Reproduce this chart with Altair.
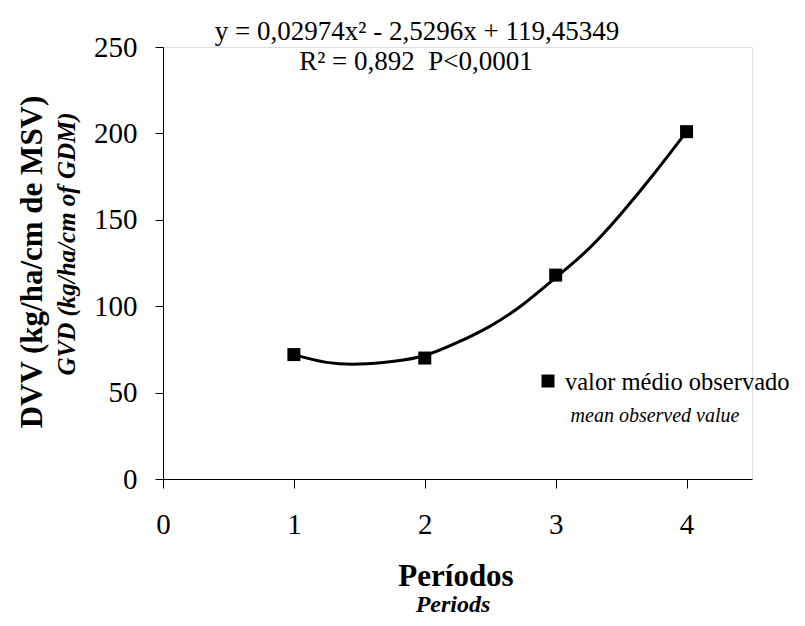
import altair as alt
import pandas as pd

# observed mean values
periods = [1, 2, 3, 4]
observed = [72, 70, 118, 201]

# fitted curve
curve_x = [1, 1.25, 1.5, 1.75, 2, 2.25, 2.5, 2.75, 3, 3.25, 3.5, 3.75, 4]
curve_y = [72, 67.5, 66.5, 68, 71.5, 79, 88.5, 101, 116.5, 133, 153.5, 176.5, 201]

x_ticks = [0, 1, 2, 3, 4]
y_ticks = [0, 50, 100, 150, 200, 250]

FONT = "Liberation Serif"

pts = pd.DataFrame({"x": periods, "y": observed})
cur = pd.DataFrame({"x": curve_x, "y": curve_y})

xs = alt.Scale(domain=[0, 4.5], nice=False, zero=False)
ys = alt.Scale(domain=[0, 250], nice=False)

xax = alt.Axis(values=x_ticks, title=None, grid=False, domainColor="black",
               tickColor="black", tickSize=9, labelFont=FONT, labelFontSize=29,
               labelColor="black", labelPadding=22, format="d", labelFlush=False)
yax = alt.Axis(values=y_ticks, title=None, grid=False, domainColor="black",
               tickColor="black", tickSize=8, labelFont=FONT, labelFontSize=29,
               labelColor="black", labelPadding=18, format="d")

line = alt.Chart(cur).mark_line(color="black", strokeWidth=3, interpolate="natural").encode(
    x=alt.X("x:Q", scale=xs, axis=xax),
    y=alt.Y("y:Q", scale=ys, axis=yax),
)
points = alt.Chart(pts).mark_point(shape="square", filled=True, color="black", size=169, opacity=1).encode(
    x=alt.X("x:Q", scale=xs),
    y=alt.Y("y:Q", scale=ys),
)

def txt(text, x, y, size, weight="normal", style="normal", angle=0, align="center"):
    return alt.Chart(pd.DataFrame({"t": [text]})).mark_text(
        font=FONT, fontSize=size, fontWeight=weight, fontStyle=style, angle=angle,
        align=align, baseline="alphabetic", color="black"
    ).encode(text="t:N", x=alt.value(x), y=alt.value(y))

legend_sq = alt.Chart(pd.DataFrame({"a": [0]})).mark_point(
    shape="square", filled=True, color="black", size=169, opacity=1
).encode(x=alt.value(385), y=alt.value(334))

chart = alt.layer(
    line, points, legend_sq,
    txt("valor médio observado", 402, 343, 24.5, align="left"),
    txt("mean observed value", 492, 375, 20, style="italic"),
    txt("y = 0,02974x² - 2,5296x + 119,45349", 254, -7, 27),
    txt("R² = 0,892\u00a0\u00a0P<0,0001", 253, 23, 27),
    txt("DVV (kg/ha/cm de MSV)", -121, 215, 31, weight="bold", angle=270),
    txt("GVD (kg/ha/cm of GDM)", -88, 197, 25, weight="bold", style="italic", angle=270),
    txt("Períodos", 293, 539, 31, weight="bold"),
    txt("Periods", 290, 565, 24, weight="bold", style="italic"),
).properties(
    width=589, height=432,
    autosize=alt.AutoSizeParams(type="none"),
    padding={"left": 155, "top": 39, "right": 45, "bottom": 139},
).configure_view(stroke=None).configure(background="white")

chart.save("out.html", embed_options={"renderer": "svg", "actions": False})
